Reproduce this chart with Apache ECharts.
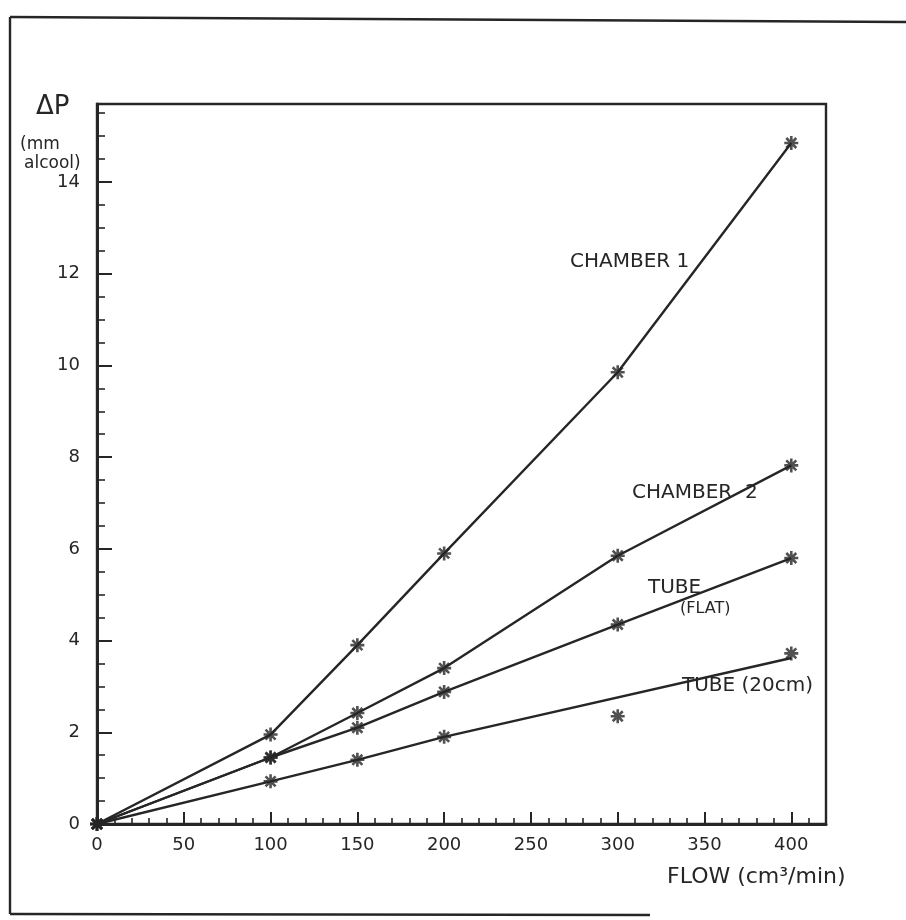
<!DOCTYPE html>
<html>
<head>
<meta charset="utf-8">
<script src="https://cdn.jsdelivr.net/npm/echarts@6/dist/echarts.min.js"></script>
<style>
html,body{margin:0;padding:0;background:#fff;}
#chart{width:906px;height:920px;}
</style>
</head>
<body>
<div id="chart"></div>
<script>
// Data
const flow = [0, 100, 150, 200, 300, 400];
const chamber1 = [0, 1.95, 3.9, 5.9, 9.85, 14.85];
const chamber2 = [0, 1.45, 2.42, 3.4, 5.85, 7.82];
const tubeFlat = [0, 1.45, 2.1, 2.88, 4.35, 5.8];
const tube20 = [0, 0.93, 1.4, 1.9, 2.35, 3.72];
// drawn line for TUBE (20cm) (hand-drawn, skips the 300 point)
const tube20LineX = [0, 100, 150, 200, 400];
const tube20LineY = [0, 0.93, 1.4, 1.9, 3.62];

const xTicks = [0, 50, 100, 150, 200, 250, 300, 350, 400];
const yTicks = [0, 2, 4, 6, 8, 10, 12, 14];

const ink = '#262626';
const star = 'path://M0,-6L0,6M-6,0L6,0M-4.3,-4.3L4.3,4.3M-4.3,4.3L4.3,-4.3';

function pairs(xs, ys) { return xs.map((x, i) => [x, ys[i]]); }

function lineSeries(data) {
  return {
    type: 'line', data: data, symbol: 'none', silent: true,
    lineStyle: { color: ink, width: 2.4 }, z: 2
  };
}
function pointSeries(data) {
  return {
    type: 'scatter', data: data, symbol: star, symbolSize: 14, silent: true,
    itemStyle: { color: 'rgba(0,0,0,0)', borderColor: ink, borderWidth: 2.6 }, z: 3
  };
}

const chart = echarts.init(document.getElementById('chart'));
const txt = (x, y, s, size) => ({
  type: 'text', left: x, top: y,
  style: { text: s, fill: ink, font: (size || 17) + 'px "DejaVu Sans"' }
});

chart.setOption({
  animation: false,
  backgroundColor: '#fff',
  grid: { left: 97, top: 104, right: 80, bottom: 96, show: true, borderColor: ink, borderWidth: 2.4, containLabel: false },
  xAxis: {
    type: 'value', min: 0, max: 420, interval: 50,
    axisLine: { show: true, lineStyle: { color: ink, width: 3 } },
    axisTick: { show: true, inside: true, length: 12, lineStyle: { color: ink, width: 2 } },
    minorTick: { show: true, splitNumber: 5, length: 6, lineStyle: { color: ink, width: 1.6 } },
    splitLine: { show: false },
    axisLabel: {
      color: ink, fontSize: 18, fontFamily: 'DejaVu Sans', margin: 12, showMaxLabel: false,
      formatter: v => xTicks.includes(v) ? String(v) : ''
    }
  },
  yAxis: {
    type: 'value', min: 0, max: 15.7, interval: 2,
    axisLine: { show: true, lineStyle: { color: ink, width: 3 } },
    axisTick: { show: true, inside: true, length: 15, lineStyle: { color: ink, width: 2 } },
    minorTick: { show: true, splitNumber: 4, length: 8, lineStyle: { color: ink, width: 1.6 } },
    splitLine: { show: false },
    axisLabel: {
      color: ink, fontSize: 18, fontFamily: 'DejaVu Sans', margin: 17, showMaxLabel: false,
      formatter: v => yTicks.includes(v) ? String(v) : ''
    }
  },
  series: [
    lineSeries(pairs(flow, chamber1)),
    lineSeries(pairs(flow, chamber2)),
    lineSeries(pairs(flow, tubeFlat)),
    lineSeries(pairs(tube20LineX, tube20LineY)),
    pointSeries(pairs(flow, chamber1)),
    pointSeries(pairs(flow, chamber2)),
    pointSeries(pairs(flow, tubeFlat)),
    pointSeries(pairs(flow, tube20))
  ],
  graphic: [
    { type: 'line', shape: { x1: 10, y1: 17, x2: 906, y2: 22 }, style: { stroke: ink, lineWidth: 2.4 } },
    { type: 'line', shape: { x1: 10, y1: 17, x2: 10, y2: 914 }, style: { stroke: ink, lineWidth: 2.4 } },
    { type: 'line', shape: { x1: 10, y1: 914, x2: 650, y2: 915 }, style: { stroke: ink, lineWidth: 2.4 } },
    txt(36, 94, 'ΔP', 26),
    txt(20, 136, '(mm', 17),
    txt(24, 155, 'alcool)', 17),
    txt(570, 252, 'CHAMBER 1', 20),
    txt(632, 483, 'CHAMBER  2', 20),
    txt(648, 578, 'TUBE', 20),
    txt(680, 601, '(FLAT)', 16),
    txt(682, 676, 'TUBE (20cm)', 20),
    txt(667, 866, 'FLOW (cm³/min)', 22)
  ]
});
</script>
</body>
</html>
